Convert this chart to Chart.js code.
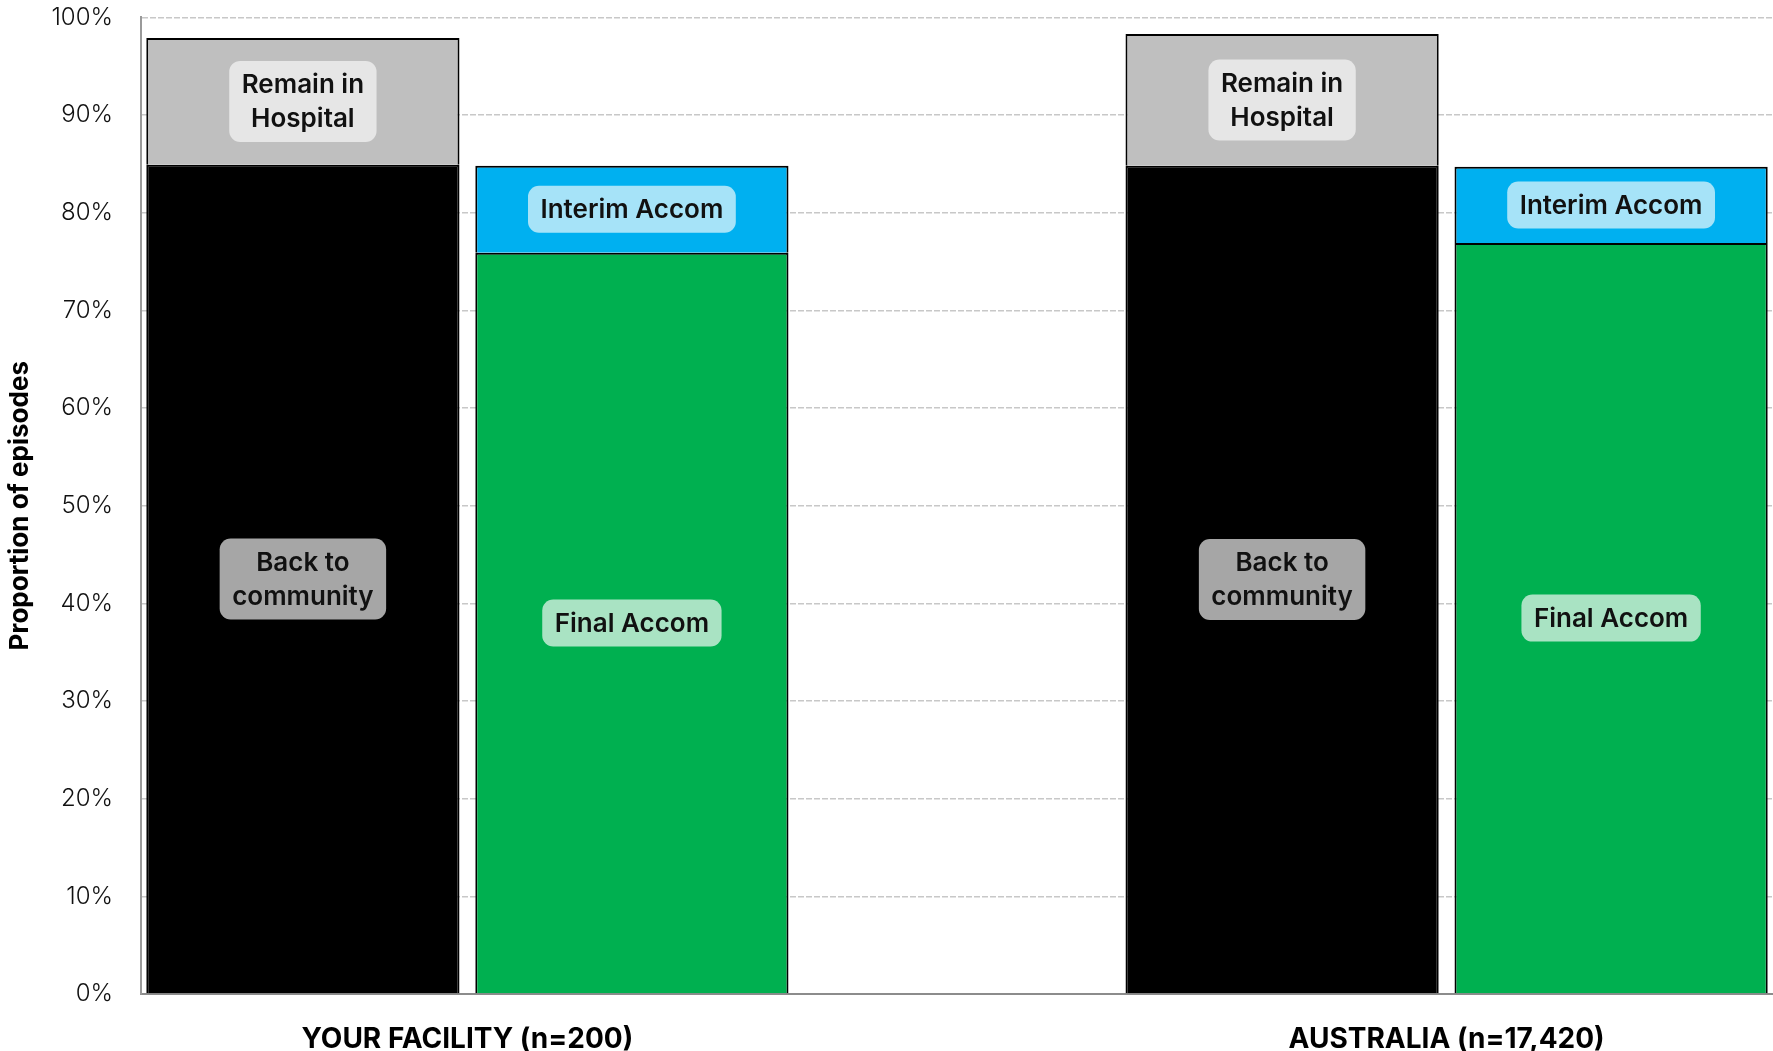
<!DOCTYPE html>
<html lang="en">
<head>
    <meta charset="UTF-8">
    <title>Proportion of episodes</title>
    <script src="https://cdn.jsdelivr.net/npm/chart.js"></script>
    <style>
        body {
            margin: 0;
            background: #ffffff;
        }
        #wrap {
            width: 1773px;
            height: 1051px;
        }
    </style>
</head>
<body>
    <div id="wrap"><canvas id="episodesChart"></canvas></div>

    <script>
        // values (percent of episodes)
        const categories = ['YOUR FACILITY (n=200)', 'AUSTRALIA (n=17,420)'];
        const backToCommunity = [84.9, 84.8];
        const remainInHospital = [13.0, 13.5];
        const finalAccom = [75.9, 76.9];
        const interimAccom = [8.9, 7.8];

        const FONT = 'Inter, "Open Sans", sans-serif';

        function points(values) {
            return values.map((v, i) => ({ x: i + 1, y: v }));
        }

        // rounded label box in the middle of every bar segment
        const boxLabels = {
            id: 'boxLabels',
            afterDatasetsDraw(chart) {
                const ctx = chart.ctx;
                chart.data.datasets.forEach((ds, i) => {
                    const meta = chart.getDatasetMeta(i);
                    meta.data.forEach(bar => {
                        const { x, y, base } = bar.getProps(['x', 'y', 'base'], true);
                        const cy = (y + base) / 2;
                        const lines = ds.boxText;
                        const lh = 34;
                        ctx.save();
                        ctx.font = '600 26px ' + FONT;
                        const w = Math.max(...lines.map(t => ctx.measureText(t).width)) + 25;
                        const h = lines.length * lh + 13;
                        ctx.fillStyle = ds.boxColor;
                        ctx.beginPath();
                        ctx.roundRect(x - w / 2, cy - h / 2, w, h, 11);
                        ctx.fill();
                        ctx.fillStyle = '#111111';
                        ctx.textAlign = 'center';
                        ctx.textBaseline = 'middle';
                        lines.forEach((t, k) => {
                            ctx.fillText(t, x, cy - (lines.length - 1) * lh / 2 + k * lh + 1);
                        });
                        ctx.restore();
                    });
                });
            }
        };

        new Chart(document.getElementById('episodesChart'), {
            type: 'bar',
            data: {
                datasets: [
                    {
                        label: 'Back to community',
                        data: points(backToCommunity),
                        stack: 'status',
                        backgroundColor: '#000000',
                        boxColor: '#A6A6A6',
                        boxText: ['Back to', 'community']
                    },
                    {
                        label: 'Remain in Hospital',
                        data: points(remainInHospital),
                        stack: 'status',
                        backgroundColor: '#BFBFBF',
                        boxColor: '#E6E6E6',
                        boxText: ['Remain in', 'Hospital']
                    },
                    {
                        label: 'Final Accom',
                        data: points(finalAccom),
                        stack: 'accom',
                        backgroundColor: '#00B050',
                        boxColor: '#A9E3C3',
                        boxText: ['Final Accom']
                    },
                    {
                        label: 'Interim Accom',
                        data: points(interimAccom),
                        stack: 'accom',
                        backgroundColor: '#00B0F0',
                        boxColor: '#A6E3F8',
                        boxText: ['Interim Accom']
                    }
                ]
            },
            options: {
                responsive: true,
                maintainAspectRatio: false,
                animation: false,
                borderColor: '#000000',
                borderWidth: 2,
                categoryPercentage: 0.672,
                barPercentage: 0.952,
                layout: { padding: { top: 16, right: 0, bottom: 0, left: 0 } },
                plugins: {
                    legend: { display: false },
                    tooltip: { enabled: false }
                },
                scales: {
                    x: {
                        type: 'linear',
                        offset: false,
                        min: 2 / 3,
                        max: 7 / 3,
                        afterBuildTicks: scale => {
                            scale.ticks = categories.map((c, i) => ({ value: i + 1 }));
                        },
                        afterFit: scale => { scale.height = 57; },
                        grid: { display: false },
                        border: { color: '#8c8c8c', width: 2 },
                        ticks: {
                            padding: 21,
                            maxRotation: 0,
                            color: '#000000',
                            font: { family: FONT, size: 28, weight: 'bold' },
                            callback: v => categories[v - 1]
                        }
                    },
                    y: {
                        stacked: true,
                        min: 0,
                        max: 100,
                        afterFit: scale => { scale.width = 141; },
                        grid: {
                            color: '#c8c8c8',
                            lineWidth: 1.5,
                            drawTicks: true,
                            tickLength: 25,
                            tickColor: 'rgba(0,0,0,0)'
                        },
                        border: { color: '#9a9a9a', width: 2, dash: [6, 2] },
                        ticks: {
                            stepSize: 10,
                            padding: 3,
                            color: '#111111',
                            font: { family: FONT, size: 24, weight: '300' },
                            callback: v => v + '%'
                        },
                        title: {
                            display: true,
                            text: 'Proportion of episodes',
                            color: '#000000',
                            font: { family: FONT, size: 26, weight: 'bold' },
                            padding: { top: 5, bottom: 0 }
                        }
                    }
                }
            },
            plugins: [boxLabels]
        });
    </script>
</body>
</html>
